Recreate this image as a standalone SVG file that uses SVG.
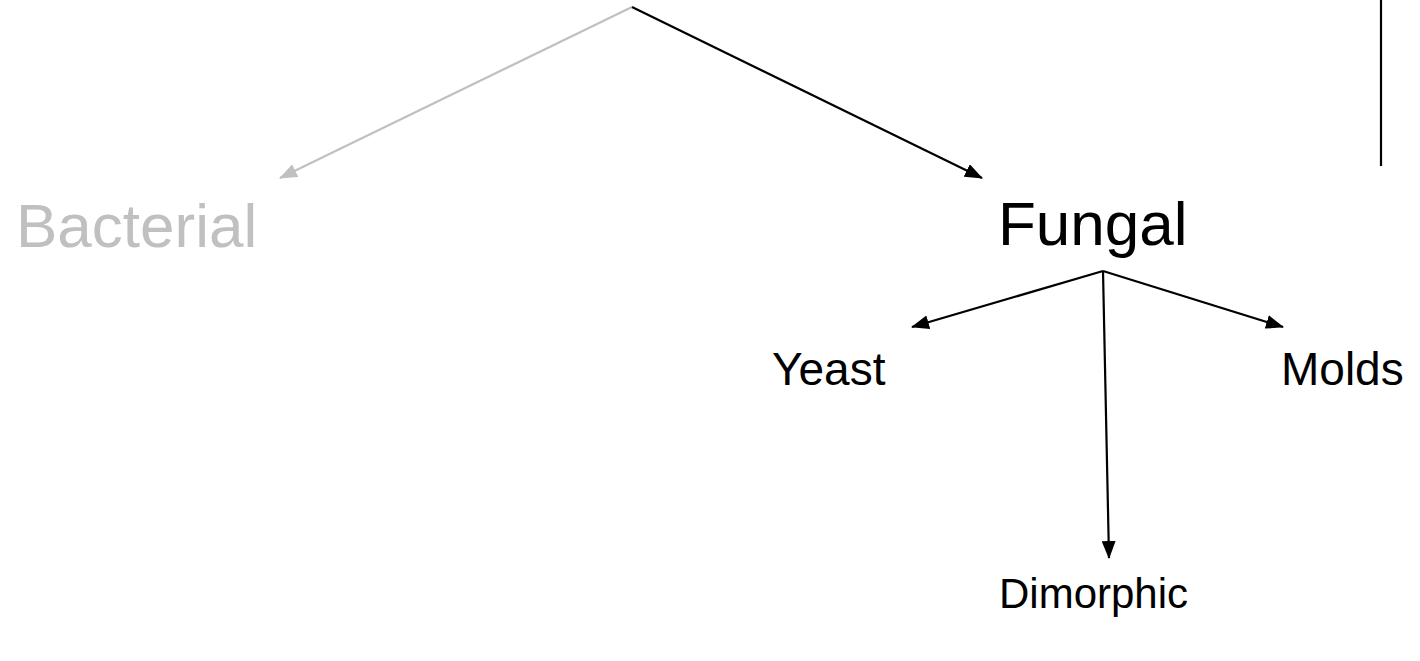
<svg xmlns="http://www.w3.org/2000/svg" width="1420" height="661" viewBox="0 0 1420 661">
<style>
.t{font-family:"Liberation Sans",Arial,sans-serif;}
.k{stroke:#000;stroke-width:2.2;fill:none}
.g{stroke:#c0c0c0;stroke-width:2.2;fill:none}
</style>
<defs>
<marker id="ak" markerWidth="18" markerHeight="14" refX="17" refY="7" orient="auto" markerUnits="userSpaceOnUse"><path d="M0,0 L18,7 L0,14 Z" fill="#000"/></marker>
<marker id="ag" markerWidth="18" markerHeight="14" refX="17" refY="7" orient="auto" markerUnits="userSpaceOnUse"><path d="M0,0 L18,7 L0,14 Z" fill="#c0c0c0"/></marker>
</defs>
<rect width="1420" height="661" fill="#fff"/>
<g id="connectors">
<line class="g" x1="632" y1="7" x2="280" y2="178" marker-end="url(#ag)"/>
<line class="k" x1="632" y1="7" x2="982" y2="178" marker-end="url(#ak)"/>
<line class="k" x1="1103" y1="271" x2="912" y2="327" marker-end="url(#ak)"/>
<line class="k" x1="1103" y1="271" x2="1283" y2="327" marker-end="url(#ak)"/>
<line class="k" x1="1103" y1="271" x2="1109" y2="558" marker-end="url(#ak)"/>
<line class="k" x1="1381" y1="0" x2="1381" y2="166"/>
</g>
<g id="bacterial"><text class="t" x="16" y="247" font-size="62" fill="#c0c0c0">Bacterial</text></g>
<g id="fungal"><text class="t" x="998" y="245" font-size="62" fill="#000">Fungal</text></g>
<g id="yeast"><text class="t" x="772" y="385" font-size="46" fill="#000">Yeast</text></g>
<g id="molds"><text class="t" x="1281" y="385" font-size="46" fill="#000">Molds</text></g>
<g id="dimorphic"><text class="t" x="999" y="608" font-size="42" fill="#000">Dimorphic</text></g>
</svg>
